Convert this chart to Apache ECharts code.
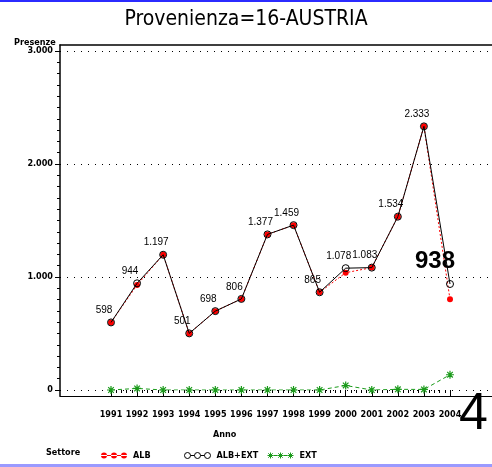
<!DOCTYPE html>
<html>
<head>
<meta charset="utf-8">
<script src="https://cdn.jsdelivr.net/npm/echarts@6/dist/echarts.min.js"></script>
<style>
html, body { margin: 0; padding: 0; background: #fff; }
#chart { width: 492px; height: 467px; }
</style>
</head>
<body>
<div id="chart"></div>
<script>
// dati
var anni = [1991, 1992, 1993, 1994, 1995, 1996, 1997, 1998, 1999, 2000, 2001, 2002, 2003, 2004];
var alb = [598, 930, 1197, 501, 698, 806, 1377, 1459, 865, 1038, 1083, 1534, 2333, 803];
var albExt = [598, 944, 1197, 501, 698, 806, 1377, 1459, 865, 1078, 1083, 1534, 2333, 938];
var ext = [0, 14, 0, 0, 0, 0, 0, 0, 0, 40, 0, 6, 5, 135];
var yTicks = [0, 1000, 2000, 3000];

var sasFont = '"Liberation Sans Narrow", "DejaVu Sans Condensed", sans-serif';

// formato italiano: 1.197
var fmt = function(v){
    if (v < 1000) return String(v);
    var r = String(v % 1000);
    while (r.length < 3) r = '0' + r;
    return Math.floor(v / 1000) + '.' + r;
};

var pairs = function(vals){
    var out = [];
    for (var i = 0; i < anni.length; i++) out.push([anni[i], vals[i]]);
    return out;
};

var albExtData = pairs(albExt).map(function(p, i){
    if (i === anni.length - 1) {
        return {value: p, label: {fontSize: 24, fontWeight: 'bold', offset: [-15, -4]}};
    }
    return p;
});

var starPath = 'path://M5 0L5 10M0 5L10 5M1.5 1.5L8.5 8.5M8.5 1.5L1.5 8.5';

// icone legenda: tre simboli uniti da una linea
var circ = function(cx){ return 'M' + (cx - 3) + ' 3.5a3 3 0 1 0 6 0a3 3 0 1 0 -6 0Z'; };
var star = function(cx){
    return 'M' + cx + ' 0.5L' + cx + ' 6.5M' + (cx - 3) + ' 3.5L' + (cx + 3) + ' 3.5' +
        'M' + (cx - 2.2) + ' 1.3L' + (cx + 2.2) + ' 5.7M' + (cx + 2.2) + ' 1.3L' + (cx - 2.2) + ' 5.7';
};
var iconAlb = 'path://' + circ(3) + circ(13) + circ(23) + 'M0 3H26V4H0Z';
var iconTot = 'path://' + circ(3) + 'M6 3.5H10' + circ(13) + 'M16 3.5H20' + circ(23);
var iconExt = 'path://' + star(3) + 'M6 3.5H10' + star(13) + 'M16 3.5H20' + star(23);

var legendText = {fontFamily: sasFont, fontSize: 9, fontWeight: 'bold', color: '#000', padding: [0, 0, 0, 1]};

var myChart = echarts.init(document.getElementById('chart'));
var option = {
    animation: false,
    backgroundColor: '#fff',
    title: {
        text: 'Provenienza=16-AUSTRIA',
        left: 'center',
        top: 4,
        textStyle: {fontFamily: sasFont, fontSize: 21, fontWeight: 'normal', color: '#000'}
    },
    grid: [
        // cornice
        {left: 60, right: 0, top: 45, bottom: 71},
        // scala verticale e griglia
        {left: 60, right: 0, top: 51, bottom: 77},
        // serie e anni
        {left: 111, right: 42, top: 51, bottom: 77}
    ],
    xAxis: [
        {gridIndex: 0, type: 'value', min: 0, max: 1, position: 'bottom',
            axisLine: {show: true, lineStyle: {color: '#000', width: 1}},
            axisTick: {show: false}, axisLabel: {show: false}, splitLine: {show: false}},
        {gridIndex: 0, type: 'value', min: 0, max: 1, position: 'top',
            axisLine: {show: true, lineStyle: {color: '#000', width: 1.5}},
            axisTick: {show: false}, axisLabel: {show: false}, splitLine: {show: false}},
        {gridIndex: 1, type: 'value', min: 0, max: 1, show: false},
        {gridIndex: 2, type: 'value', min: 1991, max: 2004, interval: 1, position: 'bottom', offset: 6,
            axisLine: {show: false},
            axisTick: {show: true, inside: false, length: 6, lineStyle: {color: '#000'}},
            minorTick: {show: true, splitNumber: 5, length: 3, lineStyle: {color: '#000'}},
            axisLabel: {
                formatter: function(v){ return String(v); },
                fontFamily: sasFont, fontSize: 9, fontWeight: 'bold', color: '#000', margin: 14
            },
            splitLine: {show: false}}
    ],
    yAxis: [
        {gridIndex: 0, type: 'value', min: 0, max: 1,
            axisLine: {show: true, lineStyle: {color: '#000', width: 1.5}},
            axisTick: {show: false}, axisLabel: {show: false}, splitLine: {show: false}},
        {gridIndex: 1, type: 'value', min: yTicks[0], max: yTicks[yTicks.length - 1], interval: 1000,
            axisLine: {show: false},
            axisTick: {show: true, length: 5, lineStyle: {color: '#000'}},
            minorTick: {show: true, splitNumber: 10, length: 3, lineStyle: {color: '#000'}},
            axisLabel: {
                formatter: fmt, fontFamily: sasFont, fontSize: 9, fontWeight: 'bold', color: '#000', margin: 7
            },
            splitLine: {show: true, lineStyle: {color: '#000', type: [1, 6], width: 1}}},
        {gridIndex: 2, type: 'value', min: yTicks[0], max: yTicks[yTicks.length - 1], show: false}
    ],
    legend: [
        {left: 96, top: 446, itemWidth: 26, itemHeight: 7, itemGap: 5, textStyle: legendText,
            data: [{name: 'ALB', icon: iconAlb, itemStyle: {color: '#ff0000', borderWidth: 0}}]},
        {left: 179, top: 446, itemWidth: 26, itemHeight: 7, textStyle: legendText,
            data: [{name: 'ALB+EXT', icon: iconTot,
                itemStyle: {color: 'rgba(0,0,0,0)', borderColor: '#000', borderWidth: 1}}]},
        {left: 262, top: 446, itemWidth: 26, itemHeight: 7, textStyle: legendText,
            data: [{name: 'EXT', icon: iconExt,
                itemStyle: {color: 'rgba(0,0,0,0)', borderColor: '#1a9a1a', borderWidth: 1}}]}
    ],
    graphic: [
        {type: 'text', left: 14, top: 38,
            style: {text: 'Presenze', font: 'bold 9px ' + sasFont, fill: '#000'}},
        {type: 'text', left: 213, top: 430,
            style: {text: 'Anno', font: 'bold 9px ' + sasFont, fill: '#000'}},
        {type: 'text', left: 46, top: 448,
            style: {text: 'Settore', font: 'bold 9px ' + sasFont, fill: '#000'}},
        {type: 'text', left: 459, top: 389,
            style: {text: '4', font: '52px "Liberation Sans", Arial, sans-serif', fill: '#000'}},
        {type: 'rect', shape: {x: 0, y: 0, width: 492, height: 2}, style: {fill: '#2b2bff'}},
        {type: 'rect', shape: {x: 0, y: 464, width: 492, height: 3}, style: {fill: '#9a9aff'}}
    ],
    series: [
        {
            name: 'ALB',
            type: 'line',
            xAxisIndex: 3, yAxisIndex: 2,
            data: pairs(alb),
            symbol: 'circle', symbolSize: 6,
            itemStyle: {color: '#ff0000'},
            lineStyle: {color: '#ff0000', width: 1, type: [2, 2]},
            z: 2
        },
        {
            name: 'ALB+EXT',
            type: 'line',
            xAxisIndex: 3, yAxisIndex: 2,
            data: albExtData,
            symbol: 'circle', symbolSize: 7,
            itemStyle: {color: 'rgba(0,0,0,0)', borderColor: '#000', borderWidth: 1},
            lineStyle: {color: '#000', width: 1},
            label: {
                show: true, position: 'top', distance: 3, offset: [-7, 0],
                formatter: function(p){ return fmt(p.value[1]); },
                fontFamily: '"Liberation Sans", Arial, sans-serif', fontSize: 10, color: '#000'
            },
            z: 3
        },
        {
            name: 'EXT',
            type: 'line',
            xAxisIndex: 3, yAxisIndex: 2,
            data: pairs(ext),
            symbol: starPath, symbolSize: 8,
            itemStyle: {color: '#1a9a1a', borderColor: '#1a9a1a', borderWidth: 1.2},
            lineStyle: {color: '#1a9a1a', width: 1, type: [4, 3]},
            z: 4
        }
    ]
};
myChart.setOption(option);
</script>
</body>
</html>
